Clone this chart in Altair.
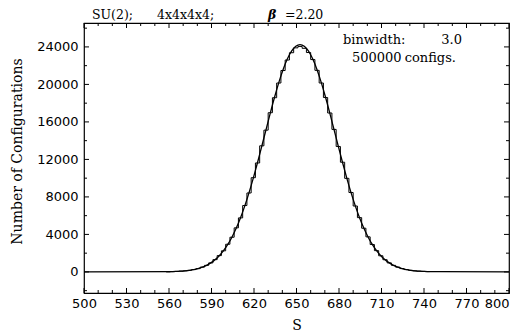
import altair as alt
import pandas as pd

# ---- data ----
hist_counts = [30, 50, 80, 120, 170, 250, 350, 510, 700, 960,
               1310, 1740, 2250, 2950, 3700, 4700, 5760, 7080, 8420, 10050,
               11620, 13450, 15120, 16980, 18580, 20150, 21480, 22600, 23380, 23900,
               24050,
               23850, 23400, 22650, 21500, 20150, 18600, 16950, 15200, 13380, 11700,
               9980, 8470, 7030, 5790, 4660, 3740, 2920, 2270, 1720, 1300,
               960, 700, 510, 355, 250, 170, 115, 78, 52, 34]
bin_edges = [561 + 3 * i for i in range(len(hist_counts))]

curve_right = [24250, 24073, 23551, 22705, 21571, 20196, 18635, 16944, 15183, 13407,
               11667, 10005, 8456, 7042, 5780, 4676, 3727, 2928, 2266, 1728,
               1300, 963, 703, 506, 358, 250, 172, 117, 78, 52, 34]
curve_vals = [0] + curve_right[:0:-1] + curve_right + [0]
curve_s = [500] + [562.5 + 3 * i for i in range(61)] + [800]

x_major = [500, 530, 560, 590, 620, 650, 680, 710, 740, 770, 800]
x_minor = [v for v in range(510, 800, 10) if v not in x_major]
y_major = [0, 4000, 8000, 12000, 16000, 20000, 24000]
y_minor = [-2000, 2000, 6000, 10000, 14000, 18000, 22000, 26000]

W, H = 425, 270
xscale = alt.Scale(domain=[500, 800], nice=False, zero=False)
yscale = alt.Scale(domain=[-2250, 26550], nice=False, zero=False)
xaxis = alt.Axis(values=x_major, ticks=False, domain=False, grid=False,
                 labelPadding=4, labelFlush=False, labelOverlap=False, labelBound=False,
                 labelAlign=alt.expr("datum.value == 800 ? 'right' : 'center'"),
                 format="d", title="S", titleY=25, titleBaseline="top")
yaxis = alt.Axis(values=y_major, ticks=False, domain=False, grid=False,
                 labelPadding=6, labelFlush=False, labelOverlap=False, format="d",
                 title="Number of Configurations",
                 titleX=-67, titleY=128, titleBaseline="middle")

hist_df = pd.DataFrame({"S": [558] + bin_edges + [744], "N": [0] + hist_counts + [0]})
curve_df = pd.DataFrame({"S": curve_s, "N": curve_vals})


def X(field):
    return alt.X(field, scale=xscale, axis=xaxis, title="S")


def Y(field):
    return alt.Y(field, scale=yscale, axis=yaxis, title="Number of Configurations")


curve = alt.Chart(curve_df).mark_line(color="black", strokeWidth=1.3,
                                      interpolate="monotone", clip=True).encode(
    x=X("S:Q"), y=Y("N:Q"))
hist = alt.Chart(hist_df).mark_line(color="black", strokeWidth=1,
                                    interpolate="step-after", clip=True).encode(
    x=X("S:Q"), y=Y("N:Q"))


def xticks(vals, length):
    df = pd.DataFrame({"S": vals})
    b = alt.Chart(df).mark_rule(color="black", strokeWidth=1).encode(
        x=X("S:Q"), y=alt.value(H), y2=alt.value(H - length))
    t = alt.Chart(df).mark_rule(color="black", strokeWidth=1).encode(
        x=X("S:Q"), y=alt.value(0), y2=alt.value(length))
    return [b, t]


def yticks(vals, length):
    df = pd.DataFrame({"N": vals})
    l = alt.Chart(df).mark_rule(color="black", strokeWidth=1).encode(
        y=Y("N:Q"), x=alt.value(0), x2=alt.value(length))
    r = alt.Chart(df).mark_rule(color="black", strokeWidth=1).encode(
        y=Y("N:Q"), x=alt.value(W), x2=alt.value(W - length))
    return [l, r]


def label(text, x, y, size=13, style="normal", weight="normal", align="left"):
    return alt.Chart(pd.DataFrame({"t": [text]})).mark_text(
        font="DejaVu Serif", fontSize=size, fontStyle=style, fontWeight=weight,
        align=align, baseline="middle", color="black").encode(
        text="t:N", x=alt.value(x), y=alt.value(y))


ty = 15 - 23
texts = [
    label("SU(2);", 92 - 84, ty, size=12.5),
    label("4x4x4x4;", 157 - 84, ty, size=12.5),
    label("β", 268 - 84, ty, size=12.5, style="italic", weight="bold"),
    label("=2.20", 285 - 84, ty, size=12.5),
    label("binwidth:", 343 - 84, 40 - 23),
    label("3.0", 462 - 84, 40 - 23, align="right"),
    label("500000", 352 - 84, 58 - 23),
    label("configs.", 456 - 84, 58 - 23, align="right"),
]

layers = [curve, hist] + xticks(x_major, 5) + xticks(x_minor, 3) \
    + yticks(y_major, 5) + yticks(y_minor, 3) + texts

chart = alt.layer(*layers).properties(
    width=W, height=H,
    autosize=alt.AutoSizeParams(type="none"),
    padding={"left": 76, "top": 15, "right": 3, "bottom": 40},
    background="white",
).configure_view(stroke="black", strokeWidth=1.2).configure_axis(
    labelFont="DejaVu Sans", labelFontSize=13, labelColor="black",
    titleFont="DejaVu Serif", titleFontSize=14, titleFontWeight="normal",
    titleColor="black",
)

chart.save("out.html", embed_options={"renderer": "svg", "actions": False})
